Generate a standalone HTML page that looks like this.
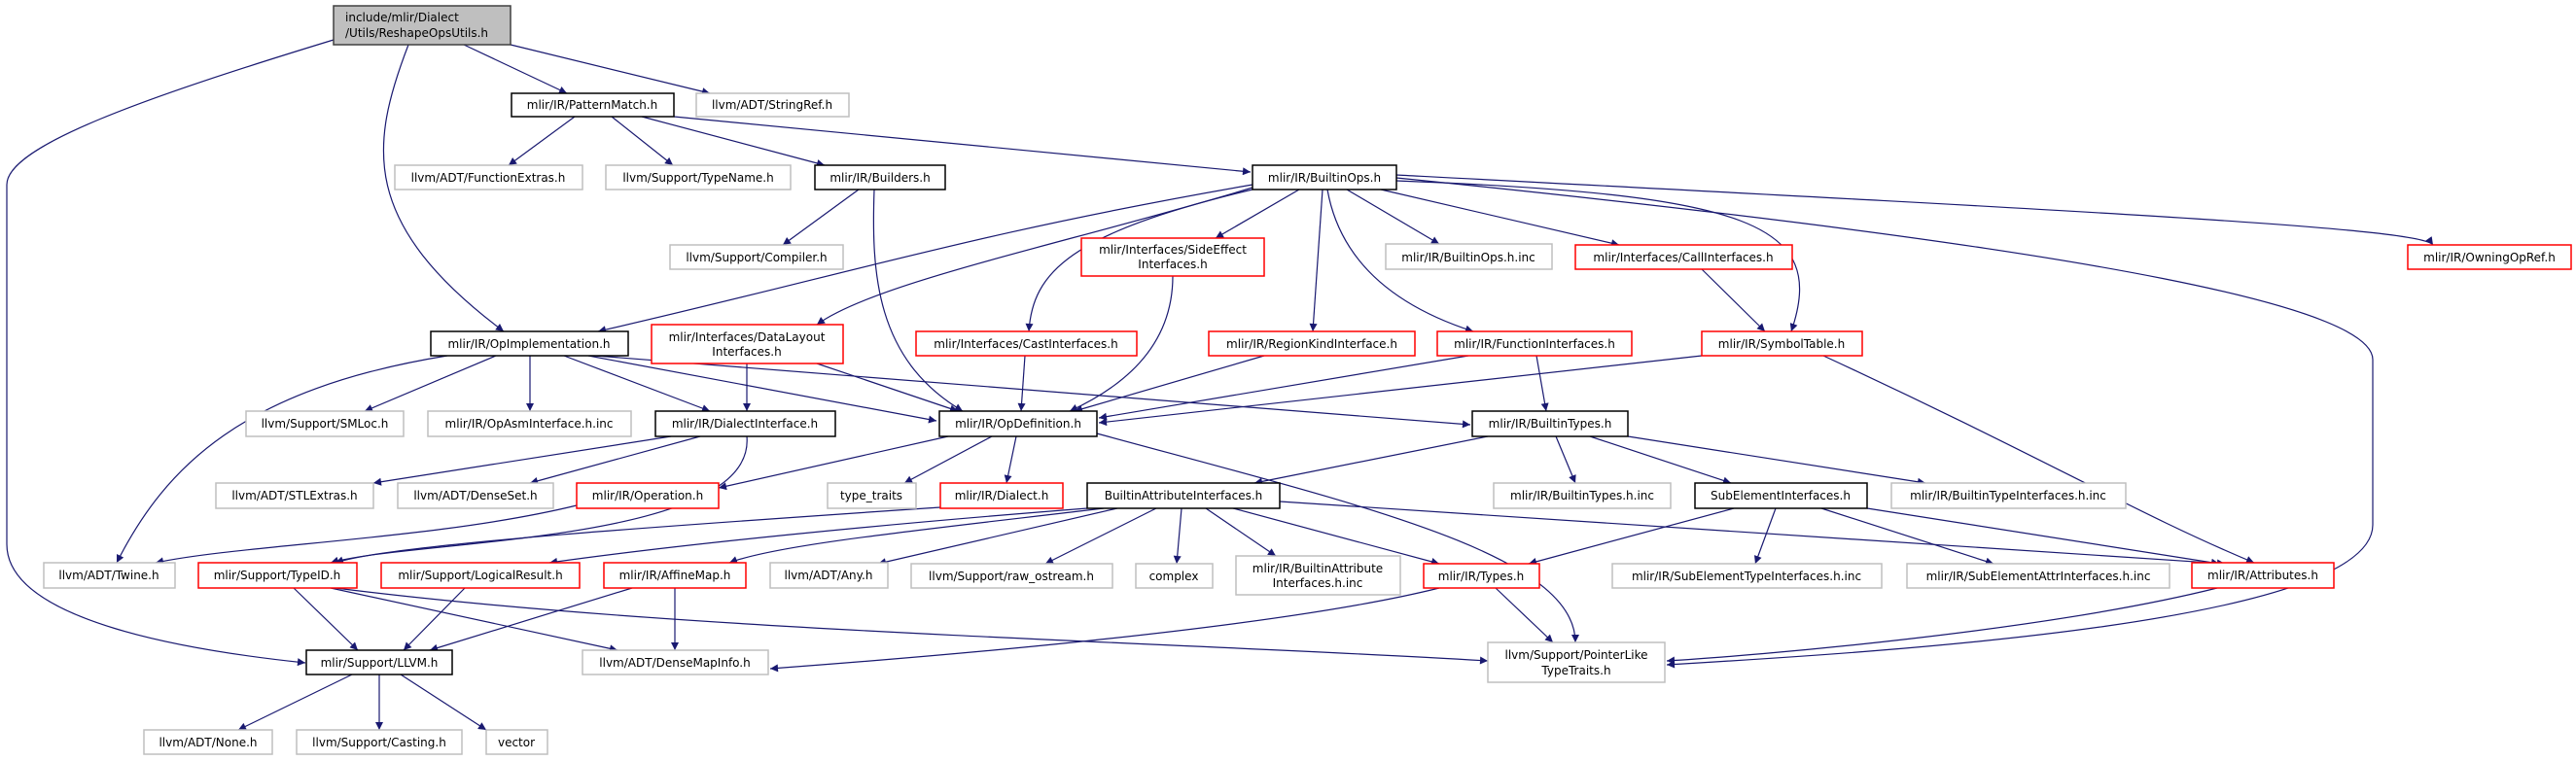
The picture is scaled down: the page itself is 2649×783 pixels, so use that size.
<!DOCTYPE html>
<html><head><meta charset="utf-8"><style>
html,body{margin:0;padding:0;background:#fff;}
svg{display:block;}
text{font-family:"DejaVu Sans","Liberation Sans",sans-serif;font-size:12px;fill:#000;}
.e{fill:none;stroke:#191970;stroke-width:1.2;}
</style></head><body>
<svg width="2649" height="783" viewBox="0 0 2649 783" xmlns="http://www.w3.org/2000/svg">
<defs><marker id="a" viewBox="0 0 10 10" refX="10" refY="5" markerWidth="10" markerHeight="8" markerUnits="userSpaceOnUse" orient="auto"><path d="M0,0 L10,5 L0,10 z" fill="#191970"/></marker></defs>
<g class="e" marker-end="url(#a)">
<path d="M343,41 C150,100 7,150 7,190 L7,560 C7,640 200,670 314,682"/>
<path d="M420,46 C380,150 370,230 518,341"/>
<path d="M477,46 L583,96"/>
<path d="M525,46 L730,96"/>
<path d="M591,120 L523,170"/>
<path d="M629,120 L692,170"/>
<path d="M660,120 L848,170"/>
<path d="M693,120 L1286,177"/>
<path d="M883,195 L805,252"/>
<path d="M899,195 C896,280 900,370 990,423"/>
<path d="M1288,190 C1000,240 880,280 615,341"/>
<path d="M1288,193 C1100,250 900,290 840,334"/>
<path d="M1288,195 C1100,240 1062,280 1058,341"/>
<path d="M1336,195 L1250,245"/>
<path d="M1360,195 L1350,341"/>
<path d="M1365,195 C1380,280 1450,320 1515,341"/>
<path d="M1385,195 L1480,251"/>
<path d="M1420,195 L1665,252"/>
<path d="M1436,186 C1800,200 1880,230 1842,341"/>
<path d="M1436,180 C2200,220 2490,235 2502,252"/>
<path d="M1436,183 C2200,260 2440,320 2440,370 L2440,540 C2440,640 1950,670 1714,684"/>
<path d="M1206,284 C1206,360 1150,400 1100,423"/>
<path d="M768,374 L768,423"/>
<path d="M840,374 L985,423"/>
<path d="M1054,366 L1050,423"/>
<path d="M1300,366 L1105,423"/>
<path d="M1510,366 L1130,430"/>
<path d="M1580,366 L1590,423"/>
<path d="M1750,366 L1130,435"/>
<path d="M1875,366 C2100,470 2200,530 2318,579"/>
<path d="M1750,277 L1815,341"/>
<path d="M460,366 C250,400 170,480 120,579"/>
<path d="M510,366 L375,423"/>
<path d="M545,366 L545,423"/>
<path d="M580,366 L730,423"/>
<path d="M605,366 L963,433"/>
<path d="M612,366 L1512,437"/>
<path d="M690,449 L384,497"/>
<path d="M720,449 L545,497"/>
<path d="M768,449 C778,560 420,555 340,579"/>
<path d="M975,449 L739,502"/>
<path d="M1020,449 L930,497"/>
<path d="M1045,449 L1035,497"/>
<path d="M1128,446 C1400,520 1620,570 1620,661"/>
<path d="M967,522 C700,540 400,560 345,579"/>
<path d="M593,520 C450,555 250,560 160,579"/>
<path d="M1530,449 L1290,497"/>
<path d="M1600,449 L1620,497"/>
<path d="M1635,449 L1780,497"/>
<path d="M1674,449 L1980,497"/>
<path d="M1118,523 C900,540 700,560 565,579"/>
<path d="M1135,523 C950,545 800,560 750,579"/>
<path d="M1149,523 L903,580"/>
<path d="M1189,523 L1075,580"/>
<path d="M1215,523 L1210,580"/>
<path d="M1240,523 L1312,572"/>
<path d="M1268,523 L1480,580"/>
<path d="M1316,516 L2288,580"/>
<path d="M1783,523 L1572,580"/>
<path d="M1826,523 L1805,580"/>
<path d="M1873,523 L2050,580"/>
<path d="M1920,523 L2282,580"/>
<path d="M1480,605 C1300,650 900,680 792,688"/>
<path d="M1538,605 L1597,661"/>
<path d="M2280,605 C2100,650 1800,675 1714,680"/>
<path d="M302,605 L368,669"/>
<path d="M340,605 L635,669"/>
<path d="M345,605 C700,650 1200,660 1530,680"/>
<path d="M478,605 L415,669"/>
<path d="M650,605 L442,669"/>
<path d="M694,605 L694,669"/>
<path d="M362,694 L245,751"/>
<path d="M390,694 L390,751"/>
<path d="M412,694 L500,751"/>
</g>
<g stroke-width="1.5">
<rect x="343" y="6" width="182" height="40" fill="#bfbfbf" stroke="#404040"/>
<rect x="526" y="96" width="167" height="24" fill="#fff" stroke="#000"/>
<rect x="716" y="96" width="157" height="24" fill="#fff" stroke="#bfbfbf"/>
<rect x="406" y="170" width="193" height="25" fill="#fff" stroke="#bfbfbf"/>
<rect x="623" y="170" width="190" height="25" fill="#fff" stroke="#bfbfbf"/>
<rect x="838" y="170" width="134" height="25" fill="#fff" stroke="#000"/>
<rect x="1288" y="170" width="148" height="25" fill="#fff" stroke="#000"/>
<rect x="689" y="252" width="178" height="25" fill="#fff" stroke="#bfbfbf"/>
<rect x="1112" y="245" width="188" height="39" fill="#fff" stroke="#ff0000"/>
<rect x="1425" y="251" width="171" height="26" fill="#fff" stroke="#bfbfbf"/>
<rect x="1620" y="252" width="223" height="25" fill="#fff" stroke="#ff0000"/>
<rect x="2476" y="252" width="168" height="25" fill="#fff" stroke="#ff0000"/>
<rect x="443" y="341" width="203" height="25" fill="#fff" stroke="#000"/>
<rect x="670" y="334" width="197" height="40" fill="#fff" stroke="#ff0000"/>
<rect x="942" y="341" width="227" height="25" fill="#fff" stroke="#ff0000"/>
<rect x="1243" y="341" width="212" height="25" fill="#fff" stroke="#ff0000"/>
<rect x="1478" y="341" width="200" height="25" fill="#fff" stroke="#ff0000"/>
<rect x="1750" y="341" width="165" height="25" fill="#fff" stroke="#ff0000"/>
<rect x="253" y="423" width="162" height="26" fill="#fff" stroke="#bfbfbf"/>
<rect x="440" y="423" width="209" height="26" fill="#fff" stroke="#bfbfbf"/>
<rect x="674" y="423" width="185" height="26" fill="#fff" stroke="#000"/>
<rect x="966" y="423" width="162" height="26" fill="#fff" stroke="#000"/>
<rect x="1514" y="423" width="160" height="26" fill="#fff" stroke="#000"/>
<rect x="222" y="497" width="162" height="26" fill="#fff" stroke="#bfbfbf"/>
<rect x="409" y="497" width="160" height="26" fill="#fff" stroke="#bfbfbf"/>
<rect x="593" y="497" width="146" height="26" fill="#fff" stroke="#ff0000"/>
<rect x="851" y="497" width="91" height="26" fill="#fff" stroke="#bfbfbf"/>
<rect x="967" y="497" width="126" height="26" fill="#fff" stroke="#ff0000"/>
<rect x="1118" y="497" width="198" height="26" fill="#fff" stroke="#000"/>
<rect x="1536" y="497" width="182" height="26" fill="#fff" stroke="#bfbfbf"/>
<rect x="1743" y="497" width="177" height="26" fill="#fff" stroke="#000"/>
<rect x="1945" y="497" width="241" height="26" fill="#fff" stroke="#bfbfbf"/>
<rect x="45" y="579" width="135" height="26" fill="#fff" stroke="#bfbfbf"/>
<rect x="204" y="579" width="163" height="26" fill="#fff" stroke="#ff0000"/>
<rect x="392" y="579" width="204" height="26" fill="#fff" stroke="#ff0000"/>
<rect x="621" y="579" width="146" height="26" fill="#fff" stroke="#ff0000"/>
<rect x="792" y="579" width="121" height="26" fill="#fff" stroke="#bfbfbf"/>
<rect x="937" y="580" width="207" height="25" fill="#fff" stroke="#bfbfbf"/>
<rect x="1168" y="580" width="79" height="25" fill="#fff" stroke="#bfbfbf"/>
<rect x="1271" y="572" width="169" height="40" fill="#fff" stroke="#bfbfbf"/>
<rect x="1464" y="580" width="119" height="25" fill="#fff" stroke="#ff0000"/>
<rect x="1658" y="580" width="277" height="25" fill="#fff" stroke="#bfbfbf"/>
<rect x="1961" y="580" width="270" height="25" fill="#fff" stroke="#bfbfbf"/>
<rect x="2254" y="579" width="146" height="26" fill="#fff" stroke="#ff0000"/>
<rect x="315" y="669" width="150" height="25" fill="#fff" stroke="#000"/>
<rect x="599" y="669" width="191" height="25" fill="#fff" stroke="#bfbfbf"/>
<rect x="1530" y="661" width="182" height="41" fill="#fff" stroke="#bfbfbf"/>
<rect x="148" y="751" width="132" height="25" fill="#fff" stroke="#bfbfbf"/>
<rect x="305" y="751" width="170" height="25" fill="#fff" stroke="#bfbfbf"/>
<rect x="500" y="751" width="63" height="25" fill="#fff" stroke="#bfbfbf"/>
</g>
<g>
<text x="355" y="22">include/mlir/Dialect</text>
<text x="355" y="38">/Utils/ReshapeOpsUtils.h</text>
</g>
<g text-anchor="middle">
<text x="609" y="112">mlir/IR/PatternMatch.h</text>
<text x="794" y="112">llvm/ADT/StringRef.h</text>
<text x="502" y="187">llvm/ADT/FunctionExtras.h</text>
<text x="718" y="187">llvm/Support/TypeName.h</text>
<text x="905" y="187">mlir/IR/Builders.h</text>
<text x="1362" y="187">mlir/IR/BuiltinOps.h</text>
<text x="778" y="269">llvm/Support/Compiler.h</text>
<text x="1206" y="261">mlir/Interfaces/SideEffect</text>
<text x="1206" y="276">Interfaces.h</text>
<text x="1510" y="269">mlir/IR/BuiltinOps.h.inc</text>
<text x="1731" y="269">mlir/Interfaces/CallInterfaces.h</text>
<text x="2560" y="269">mlir/IR/OwningOpRef.h</text>
<text x="544" y="358">mlir/IR/OpImplementation.h</text>
<text x="768" y="351">mlir/Interfaces/DataLayout</text>
<text x="768" y="366">Interfaces.h</text>
<text x="1055" y="358">mlir/Interfaces/CastInterfaces.h</text>
<text x="1349" y="358">mlir/IR/RegionKindInterface.h</text>
<text x="1578" y="358">mlir/IR/FunctionInterfaces.h</text>
<text x="1832" y="358">mlir/IR/SymbolTable.h</text>
<text x="334" y="440">llvm/Support/SMLoc.h</text>
<text x="544" y="440">mlir/IR/OpAsmInterface.h.inc</text>
<text x="766" y="440">mlir/IR/DialectInterface.h</text>
<text x="1047" y="440">mlir/IR/OpDefinition.h</text>
<text x="1594" y="440">mlir/IR/BuiltinTypes.h</text>
<text x="303" y="514">llvm/ADT/STLExtras.h</text>
<text x="489" y="514">llvm/ADT/DenseSet.h</text>
<text x="666" y="514">mlir/IR/Operation.h</text>
<text x="896" y="514">type_traits</text>
<text x="1030" y="514">mlir/IR/Dialect.h</text>
<text x="1217" y="514">BuiltinAttributeInterfaces.h</text>
<text x="1627" y="514">mlir/IR/BuiltinTypes.h.inc</text>
<text x="1831" y="514">SubElementInterfaces.h</text>
<text x="2065" y="514">mlir/IR/BuiltinTypeInterfaces.h.inc</text>
<text x="112" y="596">llvm/ADT/Twine.h</text>
<text x="285" y="596">mlir/Support/TypeID.h</text>
<text x="494" y="596">mlir/Support/LogicalResult.h</text>
<text x="694" y="596">mlir/IR/AffineMap.h</text>
<text x="852" y="596">llvm/ADT/Any.h</text>
<text x="1040" y="597">llvm/Support/raw_ostream.h</text>
<text x="1207" y="597">complex</text>
<text x="1355" y="589">mlir/IR/BuiltinAttribute</text>
<text x="1355" y="604">Interfaces.h.inc</text>
<text x="1523" y="597">mlir/IR/Types.h</text>
<text x="1796" y="597">mlir/IR/SubElementTypeInterfaces.h.inc</text>
<text x="2096" y="597">mlir/IR/SubElementAttrInterfaces.h.inc</text>
<text x="2327" y="596">mlir/IR/Attributes.h</text>
<text x="390" y="686">mlir/Support/LLVM.h</text>
<text x="694" y="686">llvm/ADT/DenseMapInfo.h</text>
<text x="1621" y="678">llvm/Support/PointerLike</text>
<text x="1621" y="694">TypeTraits.h</text>
<text x="214" y="768">llvm/ADT/None.h</text>
<text x="390" y="768">llvm/Support/Casting.h</text>
<text x="531" y="768">vector</text>
</g>
</svg>
</body></html>
